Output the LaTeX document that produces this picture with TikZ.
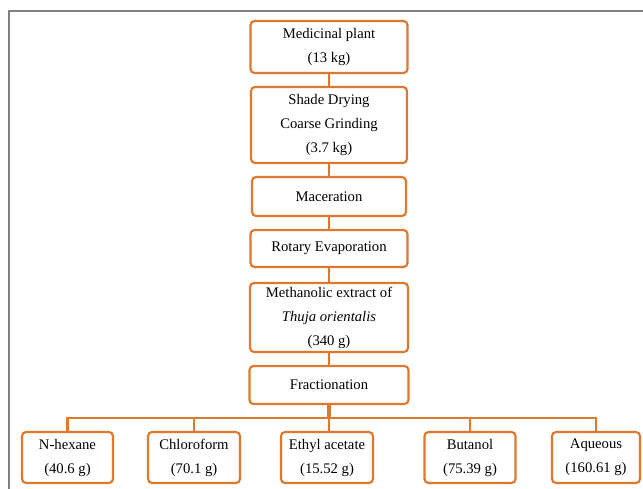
\documentclass[tikz,border=0pt]{standalone}
\usepackage{fontspec}
\setmainfont{Liberation Serif}
\usepackage{tikz}
\usetikzlibrary{calc}
\usetikzlibrary{positioning}
\definecolor{boxorange}{RGB}{222,120,46}

\tikzset{
  stepnode/.style={draw=boxorange, line width=1.6pt, rounded corners=3pt, fill=white,
    align=center, inner sep=0pt, font=\fontsize{11}{18}\selectfont},
  wd/.style={minimum width=#1*0.75pt},
  ht/.style={minimum height=#1*0.75pt},
  link/.style={draw=boxorange, line width=1.6pt},
  buslink/.style={draw=boxorange, line width=2.4pt}
}

\begin{document}
\begin{tikzpicture}[x=0.75pt, y=-0.75pt]
    \useasboundingbox (0,0) rectangle (643,489);
    \draw[gray, line width=1.6pt] (9,489) -- (9,11) -- (643,11);

    \coordinate (bus) at (329,418);

    \node[stepnode, wd=157, ht=52] (plant) at (329,47) {Medicinal plant\\(13 kg)};
    \node[stepnode, wd=156, ht=76] (dry) at (329,125) {Shade Drying\\Coarse Grinding\\(3.7 kg)};
    \node[stepnode, wd=154, ht=39] (macer) at (329,196.5) {Maceration};
    \node[stepnode, wd=157, ht=37] (rotary) at (329,248.5) {Rotary Evaporation};
    \node[stepnode, wd=158, ht=69] (extract) at (329,317.5) {Methanolic extract of\\\textit{Thuja orientalis}\\(340 g)};
    \node[stepnode, wd=159, ht=38] (fraction) at (329,385) {Fractionation};

    \node[stepnode, wd=91, ht=51] (hexane) at (67.5,457.5) {N-hexane\\(40.6 g)};
    \node[stepnode, wd=92, ht=51] (chloro) at (194,457.5) {Chloroform\\(70.1 g)};
    \node[stepnode, wd=92, ht=51] (ethyl) at (327,457.5) {Ethyl acetate\\(15.52 g)};
    \node[stepnode, wd=91, ht=51] (butanol) at (470,457.5) {Butanol\\(75.39 g)};
    \node[stepnode, wd=88, ht=51] (aqueous) at (596,457.5) {Aqueous\\(160.61 g)};

    \draw[link] (plant) -- (dry);
    \draw[link] (dry) -- (macer);
    \draw[link] (macer) -- (rotary);
    \draw[link] (rotary) -- (extract);
    \draw[link] (extract) -- (fraction);

    \draw[buslink] (fraction.south) -- (bus);
    \draw[link, line width=2pt] (hexane.north) -- (hexane.north |- bus) -- (aqueous.north |- bus) -- (aqueous.north);
    \draw[link] (chloro.north) -- (chloro.north |- bus);
    \draw[link] (bus) -- (bus |- ethyl.north);
    \draw[link] (butanol.north) -- (butanol.north |- bus);
\end{tikzpicture}
\end{document}
